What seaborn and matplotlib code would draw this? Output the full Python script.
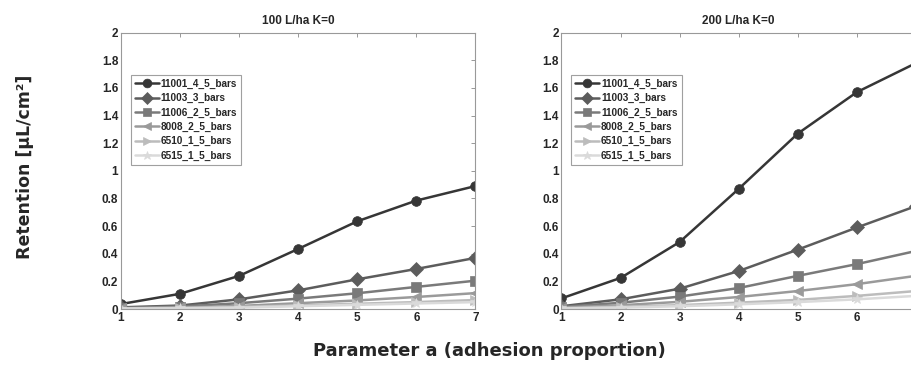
import matplotlib
matplotlib.use("Agg")
import matplotlib.pyplot as plt
from matplotlib.ticker import FuncFormatter
import seaborn as sns
import pandas as pd

# data
x_vals = [1, 2, 3, 4, 5, 6, 7]
series_names = ["11001_4_5_bars", "11003_3_bars", "11006_2_5_bars",
                "8008_2_5_bars", "6510_1_5_bars", "6515_1_5_bars"]

ret_100 = {
    "11001_4_5_bars": [0.036, 0.11, 0.24, 0.435, 0.635, 0.785, 0.89],
    "11003_3_bars":   [0.012, 0.025, 0.07, 0.135, 0.215, 0.29, 0.37],
    "11006_2_5_bars": [0.008, 0.018, 0.042, 0.075, 0.114, 0.16, 0.205],
    "8008_2_5_bars":  [0.005, 0.011, 0.022, 0.042, 0.062, 0.087, 0.115],
    "6510_1_5_bars":  [0.004, 0.008, 0.015, 0.026, 0.038, 0.05, 0.065],
    "6515_1_5_bars":  [0.003, 0.005, 0.01, 0.02, 0.03, 0.04, 0.05],
}
ret_200 = {
    "11001_4_5_bars": [0.077, 0.225, 0.485, 0.87, 1.27, 1.57, 1.78],
    "11003_3_bars":   [0.02, 0.07, 0.147, 0.275, 0.43, 0.59, 0.745],
    "11006_2_5_bars": [0.015, 0.045, 0.09, 0.152, 0.24, 0.325, 0.42],
    "8008_2_5_bars":  [0.01, 0.027, 0.052, 0.087, 0.13, 0.18, 0.24],
    "6510_1_5_bars":  [0.006, 0.016, 0.028, 0.046, 0.066, 0.095, 0.13],
    "6515_1_5_bars":  [0.004, 0.01, 0.02, 0.034, 0.05, 0.07, 0.095],
}
titles = ["100 L/ha K=0", "200 L/ha K=0"]

greys = ["#363636", "#5c5c5c", "#7a7a7a", "#9a9a9a", "#bcbcbc", "#dadada"]
marks = ["o", "D", "s", "<", ">", "*"]


def to_long(d):
    rows = []
    for name in series_names:
        for xv, yv in zip(x_vals, d[name]):
            rows.append({"a": xv, "ret": yv, "series": name})
    return pd.DataFrame(rows)


sns.set_style("white")
plt.rcParams["font.family"] = ["Liberation Sans", "DejaVu Sans"]

fig = plt.figure(figsize=(9.12, 3.78), dpi=100)
W, H = 912.0, 378.0
ax_pos = [(121, 475.5), (561.5, 916)]
top_px, bot_px = 32.7, 309

for i, (data, title) in enumerate(zip([ret_100, ret_200], titles)):
    l, r = ax_pos[i]
    ax = fig.add_axes([l / W, 1 - bot_px / H, (r - l) / W, (bot_px - top_px) / H])
    df = to_long(data)
    sns.lineplot(data=df, x="a", y="ret", hue="series", style="series",
                 hue_order=series_names, style_order=series_names,
                 palette=greys, markers=marks, dashes=False, ax=ax,
                 linewidth=1.8, markersize=7, markeredgewidth=0.5,
                 legend=True)
    # marker edges same colour as the line
    for ln in ax.get_lines():
        ln.set_markeredgecolor(ln.get_color())
    ax.set_xlim(1, 7)
    ax.set_ylim(0, 2)
    ax.set_xticks(x_vals)
    ax.set_yticks([0, 0.2, 0.4, 0.6, 0.8, 1, 1.2, 1.4, 1.6, 1.8, 2])
    ax.yaxis.set_major_formatter(FuncFormatter(lambda v, p: f"{v:g}"))
    if i == 1:
        # last tick label falls outside the cropped figure
        ax.xaxis.set_major_formatter(FuncFormatter(lambda v, p: "" if v >= 7 else f"{v:g}"))
    ax.tick_params(direction="in", length=3, width=0.6, color="#888888",
                   top=True, right=True, labelsize=8.5, pad=2)
    for lab in ax.get_xticklabels() + ax.get_yticklabels():
        lab.set_fontweight("bold")
    for sp in ax.spines.values():
        sp.set_color("#999999")
        sp.set_linewidth(0.8)
    ax.set_xlabel("")
    ax.set_ylabel("")
    ax.set_title(title, fontsize=8.5, fontweight="bold", pad=6)
    leg = ax.legend(loc="upper left", bbox_to_anchor=(0.027, 0.847),
                    prop={"size": 7.2, "weight": "bold"}, frameon=True,
                    fancybox=False, handlelength=2.4, handletextpad=0.2,
                    labelspacing=0.42, borderpad=0.4, borderaxespad=0.0,
                    markerscale=0.9)
    leg.get_frame().set_edgecolor("#888888")
    leg.get_frame().set_linewidth(0.8)

fig.text(25 / W, 1 - 167 / H, "Retention [µL/cm²]", rotation=90,
         ha="center", va="center", fontsize=12.5, fontweight="bold",
         family=["DejaVu Sans"])
fig.text(489 / W, 1 - 351 / H, "Parameter a (adhesion proportion)",
         ha="center", va="center", fontsize=13, fontweight="bold",
         family=["DejaVu Sans"])

fig.savefig("out.png", dpi=100)
